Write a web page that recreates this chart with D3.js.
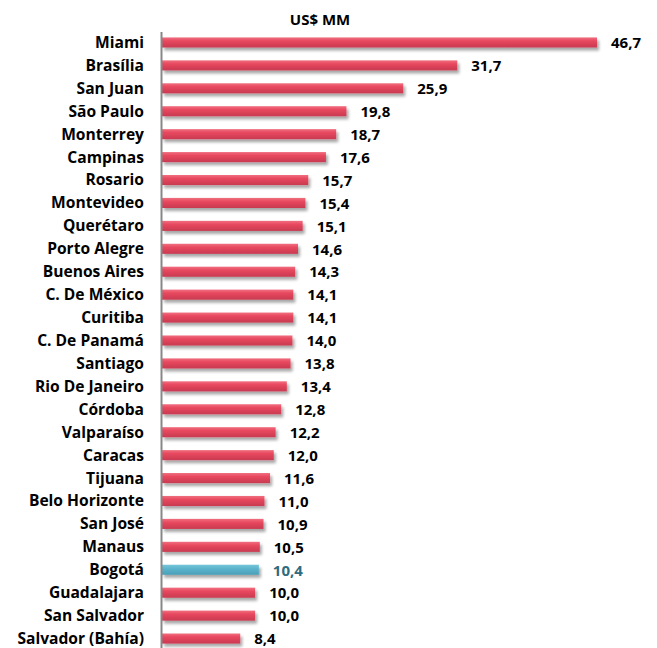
<!DOCTYPE html>
<html><head><meta charset="utf-8">
<script src="https://cdn.jsdelivr.net/npm/d3@7"></script>
<style>body{margin:0;background:#fff}</style>
</head><body>
<svg id="c" width="657" height="648"></svg>
<script>
const categories = ["Miami","Brasília","San Juan","São Paulo","Monterrey","Campinas","Rosario","Montevideo","Querétaro","Porto Alegre","Buenos Aires","C. De México","Curitiba","C. De Panamá","Santiago","Rio De Janeiro","Córdoba","Valparaíso","Caracas","Tijuana","Belo Horizonte","San José","Manaus","Bogotá","Guadalajara","San Salvador","Salvador (Bahía)"];
const values = [46.7,31.7,25.9,19.8,18.7,17.6,15.7,15.4,15.1,14.6,14.3,14.1,14.1,14.0,13.8,13.4,12.8,12.2,12.0,11.6,11.0,10.9,10.5,10.4,10.0,10.0,8.4];
const highlight = "Bogotá";
const title = "US$ MM";

const svg = d3.select("#c");
const font = "'Open Sans', 'Noto Sans', sans-serif";
const x0 = 162;
const x = d3.scaleLinear().domain([0, 46.7]).range([x0, 597]);
const y = d3.scaleBand().domain(categories).range([31, 650]).paddingInner(0.56).paddingOuter(0.28);

const defs = svg.append("defs");
const gr = defs.append("linearGradient").attr("id","gr").attr("x1",0).attr("y1",0).attr("x2",0).attr("y2",1);
gr.append("stop").attr("offset","0").attr("stop-color","#f07080");
gr.append("stop").attr("offset","0.35").attr("stop-color","#e8485f");
gr.append("stop").attr("offset","1").attr("stop-color","#c83a50");
const gb = defs.append("linearGradient").attr("id","gb").attr("x1",0).attr("y1",0).attr("x2",0).attr("y2",1);
gb.append("stop").attr("offset","0").attr("stop-color","#78c6da");
gb.append("stop").attr("offset","0.4").attr("stop-color","#5ab4cc");
gb.append("stop").attr("offset","1").attr("stop-color","#4aa0b8");
const f = defs.append("filter").attr("id","sh").attr("x","-5%").attr("y","-50%").attr("width","115%").attr("height","250%");
f.append("feGaussianBlur").attr("in","SourceAlpha").attr("stdDeviation",1.6);
f.append("feOffset").attr("dx",2).attr("dy",3).attr("result","b");
f.append("feComponentTransfer").append("feFuncA").attr("type","linear").attr("slope",0.35);
const m = f.append("feMerge"); m.append("feMergeNode"); m.append("feMergeNode").attr("in","SourceGraphic");

svg.append("text").attr("x",320).attr("y",25).attr("text-anchor","middle")
  .attr("font-family",font).attr("font-weight","bold").attr("font-size",15).attr("fill","#000").text(title);

svg.append("g").selectAll("rect").data(categories).join("rect")
  .attr("x", x0).attr("y", d => y(d)).attr("height", y.bandwidth())
  .attr("width", (d,i) => x(values[i]) - x0)
  .attr("fill", d => d === highlight ? "url(#gb)" : "url(#gr)")
  .attr("filter","url(#sh)");

svg.append("line").attr("x1",x0-0.5).attr("x2",x0-0.5).attr("y1",32).attr("y2",648)
  .attr("stroke","#878787").attr("stroke-width",2);

svg.append("g").selectAll("text").data(categories).join("text")
  .attr("x",144).attr("y", d => y(d) + y.bandwidth()/2).attr("dy","0.35em")
  .attr("text-anchor","end").attr("font-family",font).attr("font-weight","bold").attr("font-size",15.6)
  .attr("fill","#000").text(d => d);

svg.append("g").selectAll("text").data(categories).join("text")
  .attr("x", (d,i) => x(values[i]) + 14).attr("y", d => y(d) + y.bandwidth()/2 + 0.5).attr("dy","0.35em")
  .attr("font-family",font).attr("font-weight","bold").attr("font-size",15)
  .attr("fill", d => d === highlight ? "#2f6b80" : "#000")
  .text((d,i) => d3.format(".1f")(values[i]).replace(".", ","));
</script>
</body></html>
